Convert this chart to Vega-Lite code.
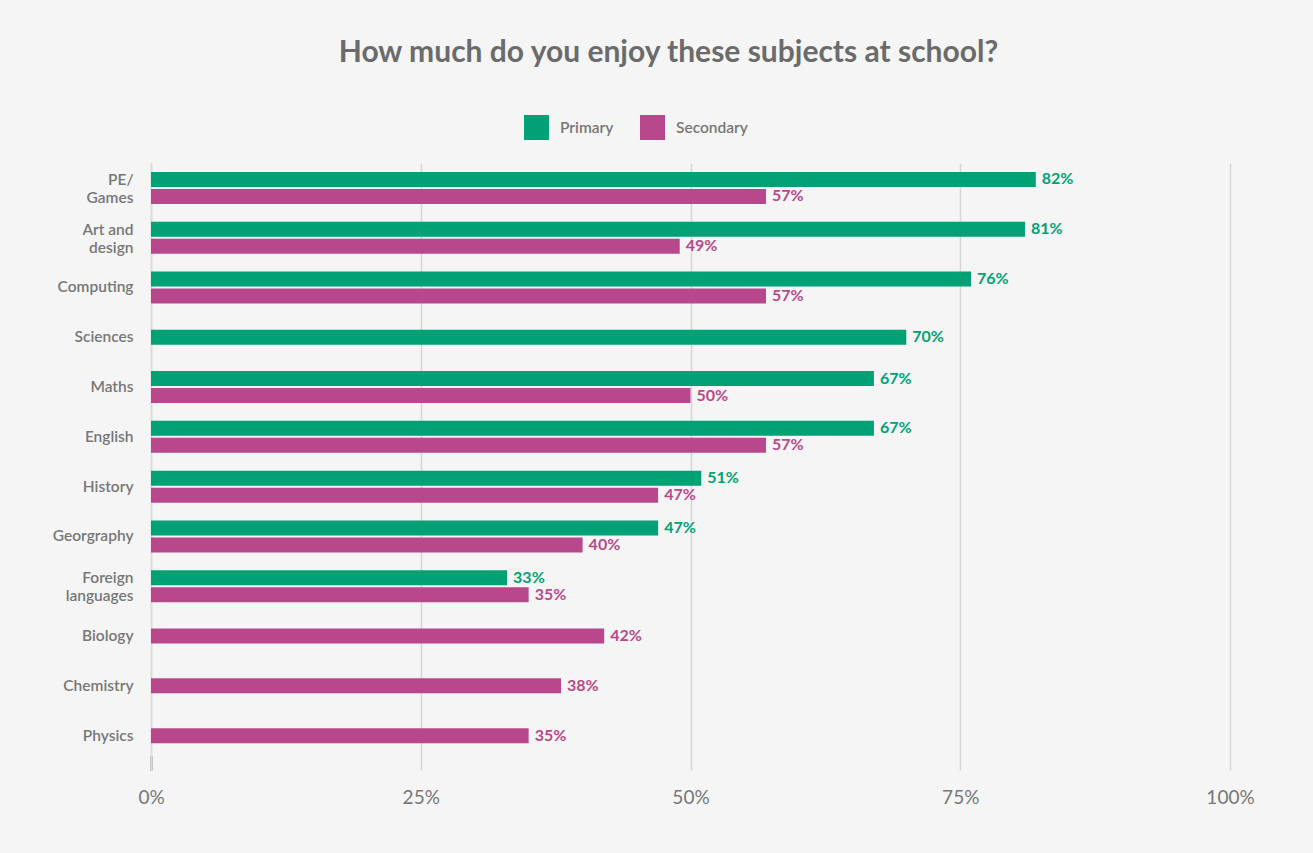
{
  "$schema": "https://vega.github.io/schema/vega-lite/v6.json",
  "width": 1079,
  "height": 607,
  "autosize": "none",
  "padding": {"left": 151, "top": 163, "right": 83, "bottom": 83},
  "background": "#f5f5f5",
  "title": {
    "text": "How much do you enjoy these subjects at school?",
    "font": "Lato",
    "fontSize": 30,
    "fontWeight": "bold",
    "color": "#6b6b6b",
    "anchor": "middle",
    "dx": -22,
    "offset": 47
  },
  "config": {
    "view": {"stroke": null},
    "font": "Lato"
  },
  "data": {
    "values": [
      {"subject": "PE/Games", "series": "Primary", "slot": "Primary", "value": 0.82},
      {"subject": "PE/Games", "series": "Secondary", "slot": "Secondary", "value": 0.57},
      {"subject": "Art and design", "series": "Primary", "slot": "Primary", "value": 0.81},
      {"subject": "Art and design", "series": "Secondary", "slot": "Secondary", "value": 0.49},
      {"subject": "Computing", "series": "Primary", "slot": "Primary", "value": 0.76},
      {"subject": "Computing", "series": "Secondary", "slot": "Secondary", "value": 0.57},
      {"subject": "Sciences", "series": "Primary", "slot": "Only", "value": 0.70},
      {"subject": "Maths", "series": "Primary", "slot": "Primary", "value": 0.67},
      {"subject": "Maths", "series": "Secondary", "slot": "Secondary", "value": 0.50},
      {"subject": "English", "series": "Primary", "slot": "Primary", "value": 0.67},
      {"subject": "English", "series": "Secondary", "slot": "Secondary", "value": 0.57},
      {"subject": "History", "series": "Primary", "slot": "Primary", "value": 0.51},
      {"subject": "History", "series": "Secondary", "slot": "Secondary", "value": 0.47},
      {"subject": "Georgraphy", "series": "Primary", "slot": "Primary", "value": 0.47},
      {"subject": "Georgraphy", "series": "Secondary", "slot": "Secondary", "value": 0.40},
      {"subject": "Foreign languages", "series": "Primary", "slot": "Primary", "value": 0.33},
      {"subject": "Foreign languages", "series": "Secondary", "slot": "Secondary", "value": 0.35},
      {"subject": "Biology", "series": "Secondary", "slot": "Only", "value": 0.42},
      {"subject": "Chemistry", "series": "Secondary", "slot": "Only", "value": 0.38},
      {"subject": "Physics", "series": "Secondary", "slot": "Only", "value": 0.35}
    ]
  },
  "encoding": {
    "y": {
      "field": "subject",
      "type": "nominal",
      "sort": ["PE/Games", "Art and design", "Computing", "Sciences", "Maths", "English", "History", "Georgraphy", "Foreign languages", "Biology", "Chemistry", "Physics"],
      "scale": {"paddingInner": 0, "paddingOuter": 0.095, "align": 0},
      "axis": {
        "title": null,
        "domain": true,
        "domainColor": "#dcdcdc",
        "domainWidth": 1.5,
        "ticks": false,
        "labelPadding": 18,
        "labelFont": "Lato",
        "labelFontSize": 15.5,
        "labelFontWeight": 600,
        "labelColor": "#777777",
        "labelLineHeight": 18,
        "labelOffset": {
          "condition": {"test": "indexof(['PE/Games', 'Art and design', 'Foreign languages'], datum.value) >= 0", "value": -8},
          "value": 0
        },
        "labelExpr": "datum.label == 'PE/Games' ? ['PE/', 'Games'] : datum.label == 'Art and design' ? ['Art and', 'design'] : datum.label == 'Foreign languages' ? ['Foreign', 'languages'] : datum.label"
      }
    },
    "yOffset": {
      "field": "slot",
      "type": "nominal",
      "scale": {"domain": ["padA", "Primary", "Only", "Secondary", "padB"], "paddingInner": 0, "paddingOuter": 0.43}
    },
    "x": {
      "field": "value",
      "type": "quantitative",
      "scale": {"domain": [0, 1]},
      "axis": {
        "title": null,
        "values": [0, 0.25, 0.5, 0.75, 1],
        "format": ".0%",
        "domain": false,
        "ticks": true,
        "tickSize": -14,
        "tickWidth": 2,
        "tickColor": {"condition": {"test": "datum.value == 0", "value": "#8a8a8a"}, "value": "transparent"},
        "grid": true,
        "gridColor": "#d6d6d6",
        "gridWidth": 1.5,
        "labelFlush": false,
        "labelPadding": 32,
        "labelFont": "Lato",
        "labelFontSize": 19,
        "labelColor": "#777777"
      }
    },
    "color": {
      "field": "series",
      "type": "nominal",
      "scale": {"domain": ["Primary", "Secondary"], "range": ["#00a275", "#b8488b"]},
      "legend": {
        "title": null,
        "orient": "none",
        "legendX": 373,
        "legendY": -48,
        "direction": "horizontal",
        "symbolType": "square",
        "symbolSize": 625,
        "symbolStrokeWidth": 0,
        "symbolOpacity": 1,
        "labelFont": "Lato",
        "labelFontSize": 15.5,
        "labelFontWeight": 600,
        "labelColor": "#777777",
        "labelOffset": 11,
        "columnPadding": 26
      }
    }
  },
  "layer": [
    {"mark": {"type": "bar", "size": 15}},
    {
      "mark": {"type": "text", "align": "left", "baseline": "middle", "dx": 6, "font": "Lato", "fontSize": 16, "fontWeight": "bold"},
      "encoding": {"text": {"field": "value", "type": "quantitative", "format": ".0%"}}
    }
  ]
}
